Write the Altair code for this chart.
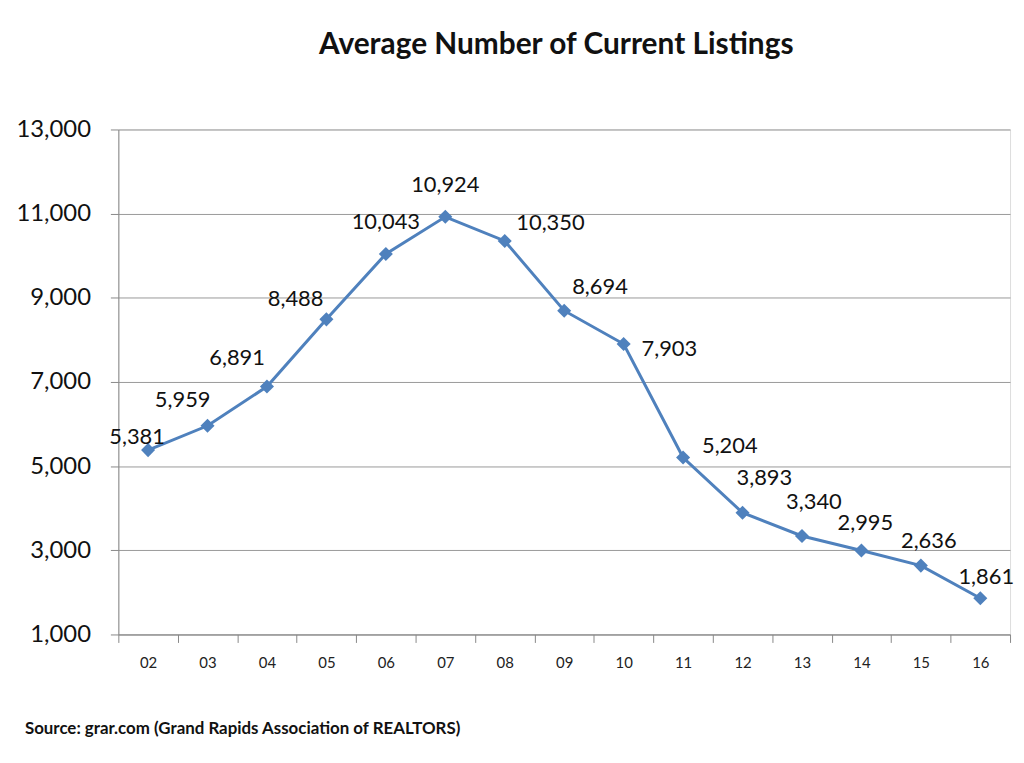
import altair as alt
import pandas as pd

years = ["02", "03", "04", "05", "06", "07", "08", "09", "10", "11", "12", "13", "14", "15", "16"]
listings = [5381, 5959, 6891, 8488, 10043, 10924, 10350, 8694, 7903, 5204, 3893, 3340, 2995, 2636, 1861]
y_ticks = [1000, 3000, 5000, 7000, 9000, 11000, 13000]

title_text = "Average Number of Current Listings"
source_text = "Source:  grar.com (Grand Rapids Association of REALTORS)"

# label placement (style): pixel offsets of each value label from its marker
label_offsets = {
    "02": (-11, -13), "03": (-25, -26), "04": (-30, -29), "05": (-31, -20),
    "06": (0, -32), "07": (0, -32), "08": (46, -18), "09": (36, -24),
    "10": (46, 5), "11": (47, -12), "12": (22, -35), "13": (12, -34),
    "14": (4, -28), "15": (8, -25), "16": (6, -21),
}

df = pd.DataFrame({"year": years, "listings": listings})

FONT = "Lato"
BLUE = "#4F81BD"
W, H = 897, 508

x_enc = alt.X("year:O", sort=years,
              scale=alt.Scale(type="band", paddingInner=0, paddingOuter=0),
              axis=alt.Axis(title=None, labelAngle=0, tickBand="extent", tickSize=8,
                            labelFontSize=15, labelPadding=13, labelColor="#222",
                            domainColor="#888", tickColor="#888", labelFont=FONT))
y_enc = alt.Y("listings:Q", scale=alt.Scale(domain=[1000, 13000], nice=False, zero=False),
              axis=alt.Axis(title=None, values=y_ticks, format=",.0f", tickSize=8,
                            labelFontSize=24, labelPadding=20, labelColor="#111",
                            domainColor="#888", tickColor="#888", gridColor="#999",
                            grid=True, labelFont=FONT))

base = alt.Chart(df).encode(x=x_enc, y=y_enc)

line = base.mark_line(color=BLUE, strokeWidth=3)
pts = base.mark_point(shape="diamond", filled=True, color=BLUE, size=200, opacity=1)

labels = []
for yr, (dx, dy) in label_offsets.items():
    labels.append(
        base.transform_filter(alt.datum.year == yr)
        .mark_text(dx=dx, dy=dy, fontSize=22, font=FONT, color="#111", align="center", baseline="middle")
        .encode(text=alt.Text("listings:Q", format=",.0f"))
    )

source = alt.Chart(pd.DataFrame({"t": [source_text]})).mark_text(
    align="left", baseline="middle", fontSize=17, fontWeight="bold", font=FONT, color="#111"
).encode(text="t:N", x=alt.value(-94), y=alt.value(603))

chart = alt.layer(line, pts, *labels, source).properties(
    width=W, height=H,
    title=alt.TitleParams(title_text, fontSize=30, fontWeight="bold", font=FONT, color="#111",
                          anchor="middle", offset=58, dx=-8),
    autosize=alt.AutoSizeParams(type="none"),
    padding={"left": 111, "top": 120, "right": 6, "bottom": 110},
).configure_view(stroke=None).configure(background="white")

chart.save("out.html", embed_options={"renderer": "svg", "actions": False})
